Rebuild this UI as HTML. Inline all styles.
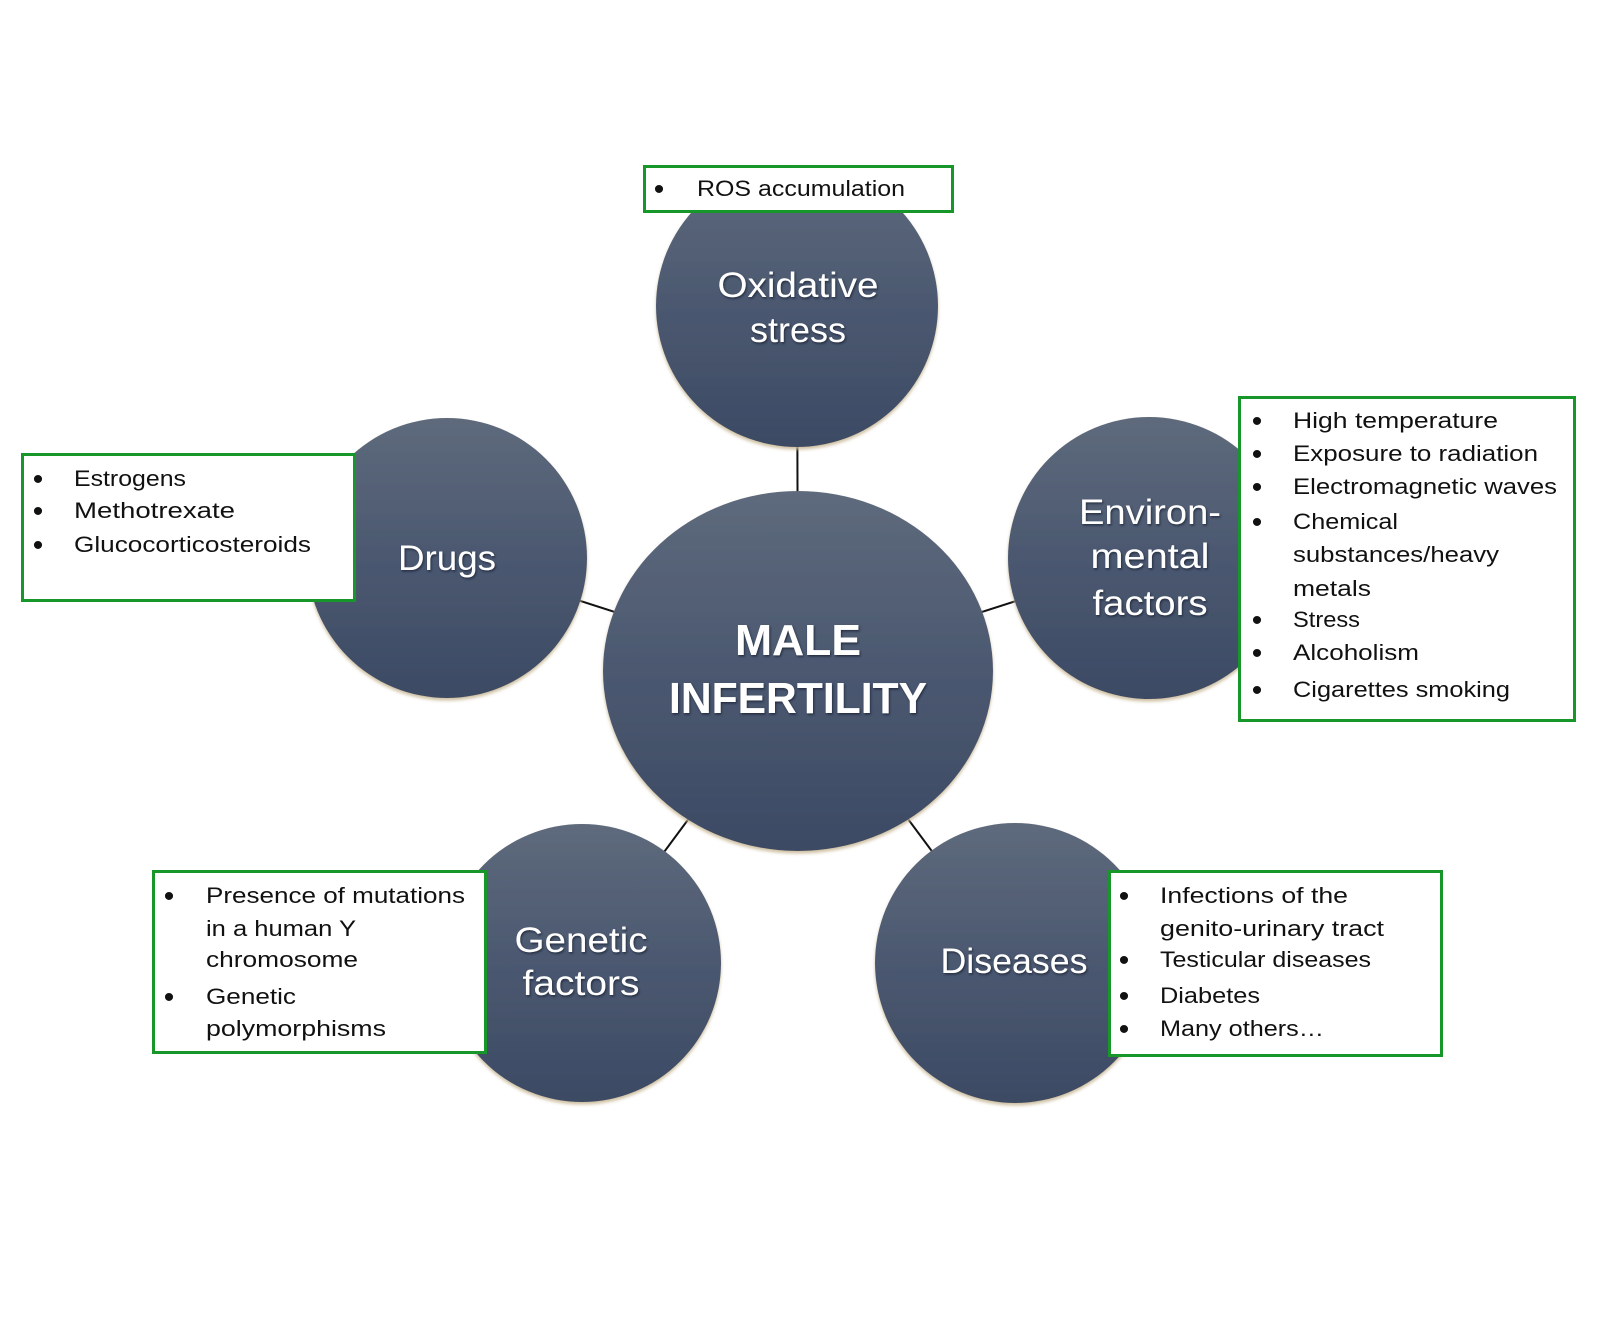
<!DOCTYPE html>
<html>
<head>
<meta charset="utf-8">
<style>
  html,body{margin:0;padding:0;background:#fff;}
  svg{display:block;}
  .lbl{font-family:"Liberation Sans",Arial,sans-serif;fill:#fff;}
  .bt{font-family:"Liberation Sans",Arial,sans-serif;fill:#111;font-size:22px;}
  .bu{font-family:"Liberation Sans",Arial,sans-serif;fill:#111;font-size:30px;}
</style>
</head>
<body>
<svg width="1600" height="1341" viewBox="0 0 1600 1341" xmlns="http://www.w3.org/2000/svg">
  <defs>
    <linearGradient id="g" x1="0" y1="0" x2="0" y2="1">
      <stop offset="0" stop-color="#5e6a7c"/>
      <stop offset="0.5" stop-color="#4b5870"/>
      <stop offset="1" stop-color="#3c4a64"/>
    </linearGradient>
    <filter id="sh" x="-10%" y="-10%" width="120%" height="120%">
      <feGaussianBlur in="SourceAlpha" stdDeviation="1.6" result="b"/>
      <feOffset dx="0" dy="2.5" in="b" result="o"/>
      <feFlood flood-color="#c8b896" flood-opacity="0.9"/>
      <feComposite in2="o" operator="in" result="s"/>
      <feMerge><feMergeNode in="s"/><feMergeNode in="SourceGraphic"/></feMerge>
    </filter>
    <filter id="ts" x="-5%" y="-5%" width="110%" height="110%">
      <feGaussianBlur in="SourceAlpha" stdDeviation="1" result="b"/>
      <feOffset dx="1" dy="1.5" in="b" result="o"/>
      <feFlood flood-color="#1a2233" flood-opacity="0.8"/>
      <feComposite in2="o" operator="in" result="s"/>
      <feMerge><feMergeNode in="s"/><feMergeNode in="SourceGraphic"/></feMerge>
    </filter>
  </defs>

  <rect width="1600" height="1341" fill="#fff"/>

  <!-- connectors -->
  <g stroke="#111" stroke-width="2">
    <line x1="798" y1="671" x2="797" y2="306"/>
    <line x1="798" y1="671" x2="447" y2="558"/>
    <line x1="798" y1="671" x2="1150" y2="558"/>
    <line x1="798" y1="671" x2="582" y2="963"/>
    <line x1="798" y1="671" x2="1015" y2="963"/>
  </g>

  <!-- circles -->
  <g filter="url(#sh)" fill="url(#g)">
    <circle cx="797" cy="306" r="141"/>
    <circle cx="447" cy="558" r="140"/>
    <circle cx="1149" cy="558" r="141"/>
    <circle cx="582" cy="963" r="139"/>
    <circle cx="1015" cy="963" r="140"/>
    <ellipse cx="798" cy="671" rx="195" ry="180"/>
  </g>

  <!-- circle labels -->
  <g class="lbl" filter="url(#ts)" text-anchor="middle" font-size="35">
    <text x="798" y="297" textLength="161" lengthAdjust="spacingAndGlyphs">Oxidative</text>
    <text x="798" y="342" textLength="96" lengthAdjust="spacingAndGlyphs">stress</text>
    <text x="447" y="570" textLength="98" lengthAdjust="spacingAndGlyphs">Drugs</text>
    <text x="1150" y="524" textLength="142" lengthAdjust="spacingAndGlyphs">Environ-</text>
    <text x="1150" y="568" textLength="119" lengthAdjust="spacingAndGlyphs">mental</text>
    <text x="1150" y="615" textLength="115" lengthAdjust="spacingAndGlyphs">factors</text>
    <text x="581" y="952" textLength="133" lengthAdjust="spacingAndGlyphs">Genetic</text>
    <text x="581" y="995" textLength="117" lengthAdjust="spacingAndGlyphs">factors</text>
    <text x="1014" y="973" textLength="147" lengthAdjust="spacingAndGlyphs">Diseases</text>
    <text x="798" y="655" font-size="44" font-weight="bold" textLength="126" lengthAdjust="spacingAndGlyphs">MALE</text>
    <text x="798" y="713" font-size="44" font-weight="bold" textLength="258" lengthAdjust="spacingAndGlyphs">INFERTILITY</text>
  </g>

  <!-- boxes -->
  <g fill="#fff" stroke="#17962a" stroke-width="3">
    <rect x="644.5" y="166.5" width="308" height="45"/>
    <rect x="22.5" y="454.5" width="332" height="146"/>
    <rect x="1239.5" y="397.5" width="335" height="323"/>
    <rect x="153.5" y="871.5" width="332" height="181"/>
    <rect x="1109.5" y="871.5" width="332" height="184"/>
  </g>

  <!-- bullets -->
  <g class="bu" text-anchor="middle">
    <text x="659" y="199">•</text>
    <text x="38" y="489">•</text>
    <text x="38" y="521">•</text>
    <text x="38" y="555">•</text>
    <text x="1257" y="431">•</text>
    <text x="1257" y="464">•</text>
    <text x="1257" y="497">•</text>
    <text x="1257" y="532">•</text>
    <text x="1257" y="630">•</text>
    <text x="1257" y="663">•</text>
    <text x="1257" y="700">•</text>
    <text x="169" y="906">•</text>
    <text x="169" y="1007">•</text>
    <text x="1124" y="906">•</text>
    <text x="1124" y="970">•</text>
    <text x="1124" y="1006">•</text>
    <text x="1124" y="1039">•</text>
  </g>

  <!-- ROS -->
  <g class="bt">
    <text x="697" y="196" textLength="208" lengthAdjust="spacingAndGlyphs">ROS accumulation</text>
  </g>

  <!-- Drugs box -->
  <g class="bt">
    <text x="74" y="486" textLength="112" lengthAdjust="spacingAndGlyphs">Estrogens</text>
    <text x="74" y="518" textLength="161" lengthAdjust="spacingAndGlyphs">Methotrexate</text>
    <text x="74" y="552" textLength="237" lengthAdjust="spacingAndGlyphs">Glucocorticosteroids</text>
  </g>

  <!-- Environmental box -->
  <g class="bt">
    <text x="1293" y="428" textLength="205" lengthAdjust="spacingAndGlyphs">High temperature</text>
    <text x="1293" y="461" textLength="245" lengthAdjust="spacingAndGlyphs">Exposure to radiation</text>
    <text x="1293" y="494" textLength="264" lengthAdjust="spacingAndGlyphs">Electromagnetic waves</text>
    <text x="1293" y="529" textLength="105" lengthAdjust="spacingAndGlyphs">Chemical</text>
    <text x="1293" y="562" textLength="206" lengthAdjust="spacingAndGlyphs">substances/heavy</text>
    <text x="1293" y="596" textLength="78" lengthAdjust="spacingAndGlyphs">metals</text>
    <text x="1293" y="627" textLength="67" lengthAdjust="spacingAndGlyphs">Stress</text>
    <text x="1293" y="660" textLength="126" lengthAdjust="spacingAndGlyphs">Alcoholism</text>
    <text x="1293" y="697" textLength="217" lengthAdjust="spacingAndGlyphs">Cigarettes smoking</text>
  </g>

  <!-- Genetic box -->
  <g class="bt">
    <text x="206" y="903" textLength="259" lengthAdjust="spacingAndGlyphs">Presence of mutations</text>
    <text x="206" y="936" textLength="150" lengthAdjust="spacingAndGlyphs">in a human Y</text>
    <text x="206" y="967" textLength="152" lengthAdjust="spacingAndGlyphs">chromosome</text>
    <text x="206" y="1004" textLength="90" lengthAdjust="spacingAndGlyphs">Genetic</text>
    <text x="206" y="1036" textLength="180" lengthAdjust="spacingAndGlyphs">polymorphisms</text>
  </g>

  <!-- Diseases box -->
  <g class="bt">
    <text x="1160" y="903" textLength="188" lengthAdjust="spacingAndGlyphs">Infections of the</text>
    <text x="1160" y="936" textLength="224" lengthAdjust="spacingAndGlyphs">genito-urinary tract</text>
    <text x="1160" y="967" textLength="211" lengthAdjust="spacingAndGlyphs">Testicular diseases</text>
    <text x="1160" y="1003" textLength="100" lengthAdjust="spacingAndGlyphs">Diabetes</text>
    <text x="1160" y="1036" textLength="164" lengthAdjust="spacingAndGlyphs">Many others…</text>
  </g>
</svg>
</body>
</html>
